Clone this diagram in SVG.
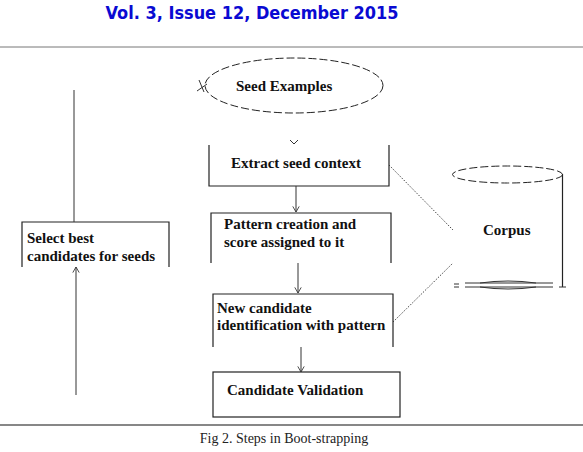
<svg xmlns="http://www.w3.org/2000/svg" width="583" height="452" viewBox="0 0 583 452">
<style>
.t{font-family:"Liberation Serif","Times New Roman",serif;font-weight:bold;font-size:15px;fill:#111}
.box{fill:none;stroke:#222;stroke-width:1.2}
.conn{fill:none;stroke:#333;stroke-width:1}
.dot{fill:none;stroke:#333;stroke-width:0.9;stroke-dasharray:1.5 1.5}
.dash{fill:none;stroke:#222;stroke-width:1;stroke-dasharray:8 3}
</style>
<defs>
<marker id="ah" viewBox="0 0 10 10" refX="9" refY="5" markerWidth="8" markerHeight="8" orient="auto" markerUnits="userSpaceOnUse">
<path d="M2,1 L9,5 L2,9" fill="none" stroke="#333" stroke-width="1.1"/>
</marker>
</defs>
<rect width="583" height="452" fill="#fff"/>
<text x="252" y="19" text-anchor="middle" font-family="'DejaVu Sans',Verdana,sans-serif" font-weight="bold" font-size="17" fill="#0a0ad2" textLength="293" lengthAdjust="spacingAndGlyphs">Vol. 3, Issue 12, December 2015</text>
<line x1="0" y1="47" x2="583" y2="47" stroke="#777" stroke-width="1"/>

<g id="seed-examples">
<ellipse cx="294" cy="85.5" rx="89" ry="27.5" class="dash"/>
<path d="M199,80 L204,92 M197,91 L207,84" class="conn" stroke-width="0.7"/>
<text x="236" y="91" class="t">Seed Examples</text>
</g>

<g id="extract-seed-context">
<path d="M209,145 V186 H389 V145" class="box"/>
<text x="231" y="168" class="t">Extract seed context</text>
</g>

<g id="pattern-creation">
<path d="M211,263 V213 H391 V263" class="box"/>
<text x="224" y="229" class="t">Pattern creation and</text>
<text x="224" y="247" class="t">score assigned to it</text>
</g>

<g id="new-candidate">
<path d="M213,347 V294 H393 V347" class="box"/>
<text x="217" y="313" class="t">New candidate</text>
<text x="217" y="330" class="t">identification with pattern</text>
</g>

<g id="candidate-validation">
<rect x="213" y="372" width="187" height="45" class="box"/>
<text x="227" y="395" class="t">Candidate Validation</text>
</g>

<g id="corpus">
<ellipse cx="507.5" cy="174.5" rx="55" ry="8.5" class="dash"/>
<line x1="562.5" y1="174" x2="562.5" y2="287" class="box"/>
<path d="M465,283 H553 M465,287 H553" class="conn"/>
<path d="M480,283 Q508,279 536,283 M480,287 Q508,291 536,287" class="conn" stroke-width="0.8"/>
<path d="M454,284 H459 M454,287 H459 M559,287 H566" class="conn" stroke-width="0.8"/>
<text x="483" y="235" class="t">Corpus</text>
</g>

<g id="select-best">
<path d="M22,267 V222 H169 V267" class="box"/>
<text x="27" y="243" class="t">Select best</text>
<text x="27" y="261" class="t">candidates for seeds</text>
</g>

<g id="connectors">
<path d="M290,140 L294,144 L298,140" class="conn" stroke="#555"/>
<line x1="296" y1="186" x2="296" y2="212" class="conn" stroke="#555" marker-end="url(#ah)"/>
<line x1="298" y1="263" x2="298" y2="293" class="conn" stroke="#555" marker-end="url(#ah)"/>
<line x1="301" y1="347" x2="301" y2="372" class="conn" stroke="#555" marker-end="url(#ah)"/>
<line x1="389" y1="165" x2="453" y2="230" class="dot"/>
<line x1="393" y1="322" x2="453" y2="263" class="dot"/>
<line x1="74" y1="90" x2="74" y2="222" class="conn"/>
<line x1="76" y1="395" x2="76" y2="267" class="conn" marker-end="url(#ah)"/>
</g>

<line x1="0" y1="425" x2="583" y2="425" stroke="#111" stroke-width="1.2"/>
<text x="284" y="443" text-anchor="middle" font-family="'Liberation Serif','Times New Roman',serif" font-size="14" fill="#222">Fig 2. Steps in Boot-strapping</text>
</svg>
